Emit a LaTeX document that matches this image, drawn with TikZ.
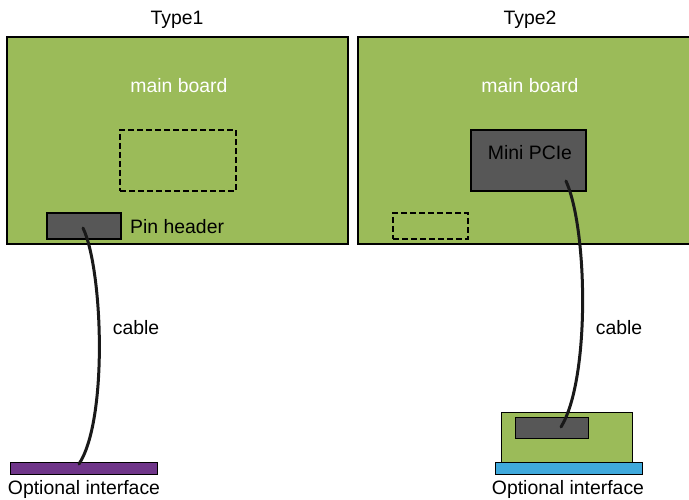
\documentclass[tikz,border=0pt]{standalone}
\usepackage{fontspec}
\setmainfont{Liberation Sans}
\definecolor{boardgreen}{HTML}{9BBB59}
\definecolor{chipgray}{HTML}{575757}
\definecolor{ifpurple}{HTML}{6F3589}
\definecolor{ifblue}{HTML}{3FA9DC}
\tikzset{
  box/.style={draw=black, line width=1.4pt, anchor=north west, inner sep=0pt, outer sep=0pt},
  board/.style={box, fill=boardgreen},
  chip/.style={box, fill=chipgray},
  slot/.style={draw=black, dashed, dash pattern=on 6pt off 3pt, line width=1.4pt, anchor=north west, inner sep=0pt, outer sep=0pt},
  lbl/.style={font=\fontsize{19.4}{23}\selectfont, inner sep=0pt},
  cablestyle/.style={draw=black!90, line width=3pt, line cap=round},
}
\begin{document}
\begin{tikzpicture}[x=1pt,y=-1pt]
\useasboundingbox (0,0) rectangle (689,500);
% Type 1
\node[lbl] (t1) at (177,20) {Type1};
\node[board, minimum width=341pt, minimum height=207pt] (b1) at (7,37) {};
\node[lbl, text=white] (mb1) at (179,86) {main board};
\node[slot, minimum width=116pt, minimum height=61pt] (s1) at (120,130) {};
\node[chip, minimum width=74pt, minimum height=26pt] (ph) at (47,213) {};
\node[lbl, anchor=west] (phl) at (130,227) {Pin header};
\node[box, fill=ifpurple, line width=1pt, minimum width=147pt, minimum height=12pt] (if1) at (10,462) {};
\node[lbl] (if1l) at (84,489) {Optional interface};
\node[lbl] (c1l) at (136,328) {cable};
\coordinate (c1a) at (83,228);
\coordinate (c1b) at (79,464);
\draw[cablestyle] (c1a) .. controls (103,270) and (108,420) .. (c1b);
% Type 2
\node[lbl] (t2) at (530,20) {Type2};
\node[board, minimum width=336pt, minimum height=207pt] (b2) at (358,37) {};
\node[lbl, text=white] (mb2) at (530,86) {main board};
\node[chip, minimum width=115pt, minimum height=61pt] (mp) at (471,130) {};
\node[lbl] (mpl) at (530,153) {Mini PCIe};
\node[slot, minimum width=75pt, minimum height=26pt] (s2) at (393,213) {};
\node[board, line width=1pt, minimum width=131pt, minimum height=50pt] (sb) at (501,412) {};
\node[chip, line width=1pt, minimum width=73pt, minimum height=21pt] (sc) at (515,417) {};
\node[box, fill=ifblue, line width=1pt, minimum width=147pt, minimum height=12pt] (if2) at (495,462) {};
\node[lbl] (if2l) at (568,489) {Optional interface};
\node[lbl] (c2l) at (619,328) {cable};
\coordinate (c2a) at (566,181);
\coordinate (c2b) at (561,427);
\draw[cablestyle] (c2a) .. controls (588,230) and (590,380) .. (c2b);
\end{tikzpicture}
\end{document}
